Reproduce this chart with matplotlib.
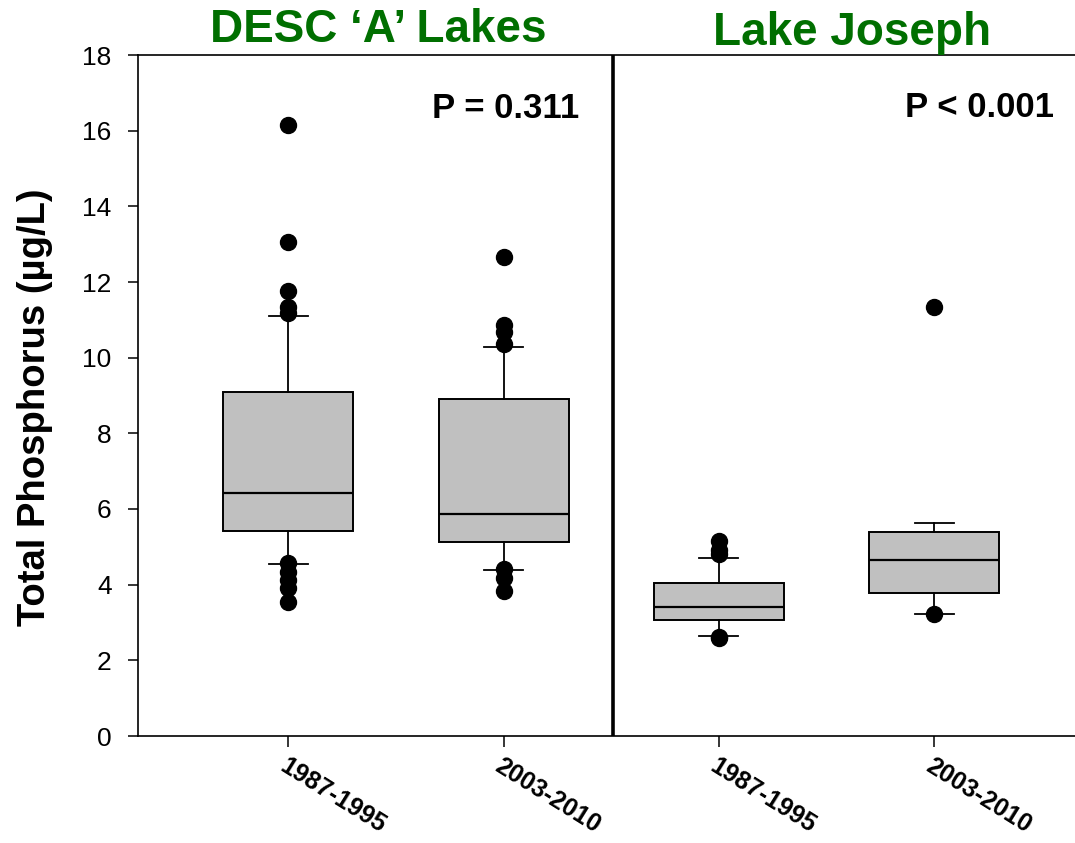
import matplotlib
matplotlib.use("Agg")
import matplotlib.pyplot as plt

plt.rcParams['font.family'] = ['Liberation Sans', 'DejaVu Sans']

# ---- data ----
panel_titles = ["DESC \u2018A\u2019 Lakes", "Lake Joseph"]
p_values = ["P = 0.311", "P < 0.001"]
xtick_labels = ["1987-1995", "2003-2010", "1987-1995", "2003-2010"]
positions = [1, 2, 3, 4]
q1 = [5.42, 5.12, 3.06, 3.79]
med = [6.42, 5.87, 3.42, 4.65]
q3 = [9.09, 8.91, 4.05, 5.39]
whislo = [4.55, 4.39, 2.65, 3.22]
whishi = [11.10, 10.28, 4.71, 5.62]
fliers_desc_early = [16.15, 13.07, 11.76, 11.34, 11.18, 4.58, 4.34, 4.13, 3.90, 3.53]
fliers_desc_late = [12.65, 10.87, 10.68, 10.36, 4.42, 4.17, 3.82]
fliers_joe_early = [5.15, 4.91, 4.81, 2.62, 2.58]
fliers_joe_late = [11.33, 3.22]
fliers = [fliers_desc_early, fliers_desc_late, fliers_joe_early, fliers_joe_late]
ylabel = "Total Phosphorus (\u00b5g/L)"

W, H = 1075, 843
fig = plt.figure(figsize=(W / 100, H / 100), dpi=100)
ax_l, ax_r, ax_t, ax_b = 138, 1075, 55, 736
ax = fig.add_axes([ax_l / W, 1 - ax_b / H, (ax_r - ax_l) / W, (ax_b - ax_t) / H])

stats = []
for i in range(len(positions)):
    stats.append(dict(q1=q1[i], med=med[i], q3=q3[i], whislo=whislo[i],
                      whishi=whishi[i], fliers=fliers[i]))

ax.bxp(stats, positions=positions, widths=0.604, capwidths=0.181,
       patch_artist=True, manage_ticks=False,
       boxprops=dict(facecolor='#c0c0c0', edgecolor='black', linewidth=1.4),
       medianprops=dict(color='black', linewidth=1.6),
       whiskerprops=dict(color='black', linewidth=1.3),
       capprops=dict(color='black', linewidth=1.3),
       flierprops=dict(marker='o', markerfacecolor='black', markeredgecolor='black',
                       markersize=11.5, linestyle='none'))

ax.set_xlim(0.3007, 4.6548)
ax.set_ylim(0, 18)
ax.axvline(2.508, color='black', linewidth=2.6)

ax.set_yticks(range(0, 19, 2))
ax.set_yticklabels([str(v) for v in range(0, 19, 2)], fontsize=19)
ax.tick_params(axis='y', direction='out', length=7, width=1.1, pad=12)
ax.set_xticks(positions)
ax.set_xticklabels(xtick_labels, fontsize=18, rotation=-32, ha='left', va='top',
                   rotation_mode='anchor', fontweight='bold')
ax.tick_params(axis='x', direction='out', length=8, width=1.1, pad=5)

for s in ['left', 'bottom', 'top']:
    ax.spines[s].set_linewidth(1.2)
ax.spines['right'].set_visible(False)

green = '#006f00'
fig.text(378 / W, 1 - 42.5 / H, panel_titles[0], color=green, fontsize=33,
         fontweight='bold', ha='center', va='baseline')
fig.text(852 / W, 1 - 45 / H, panel_titles[1], color=green, fontsize=33,
         fontweight='bold', ha='center', va='baseline')
fig.text(579 / W, 1 - 118 / H, p_values[0], fontsize=25, fontweight='bold',
         ha='right', va='baseline')
fig.text(1054 / W, 1 - 117 / H, p_values[1], fontsize=25, fontweight='bold',
         ha='right', va='baseline')
fig.text(35 / W, 1 - 407 / H, ylabel, fontsize=27.5, fontweight='bold',
         rotation=90, ha='center', va='center')

fig.savefig('out.png', dpi=100)
